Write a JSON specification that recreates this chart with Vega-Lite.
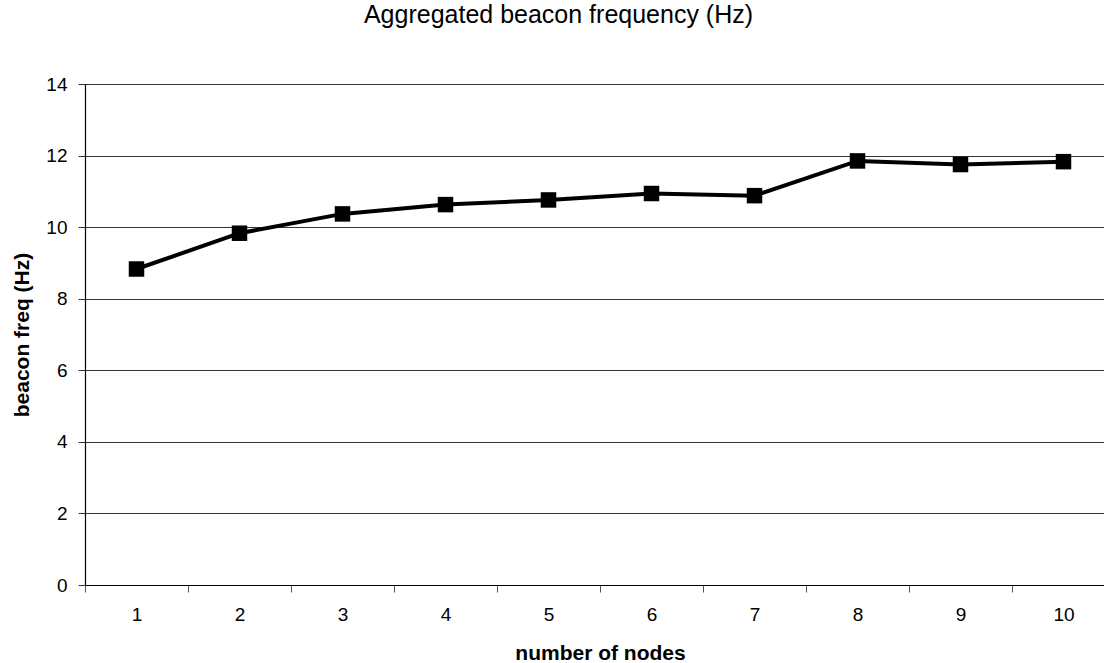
{
  "$schema": "https://vega.github.io/schema/vega-lite/v6.json",
  "autosize": "none",
  "padding": {"left": 85, "top": 84, "right": 0, "bottom": 78},
  "width": 1019,
  "height": 501,
  "background": "white",
  "config": {"view": {"stroke": null}, "font": "Liberation Sans"},
  "title": {"text": "Aggregated beacon frequency (Hz)", "fontSize": 25, "fontWeight": "normal", "font": "Liberation Sans", "color": "#000", "anchor": "middle", "dx": -36, "offset": 47},
  "data": {"values": [
    {"nodes": "1", "freq": 8.83},
    {"nodes": "2", "freq": 9.83},
    {"nodes": "3", "freq": 10.37},
    {"nodes": "4", "freq": 10.63},
    {"nodes": "5", "freq": 10.76},
    {"nodes": "6", "freq": 10.94},
    {"nodes": "7", "freq": 10.88},
    {"nodes": "8", "freq": 11.85},
    {"nodes": "9", "freq": 11.75},
    {"nodes": "10", "freq": 11.83}
  ]},
  "encoding": {
    "x": {"field": "nodes", "type": "ordinal", "sort": null,
      "scale": {"paddingInner": 0, "paddingOuter": 0, "range": [0, 1030]},
      "axis": {"title": "number of nodes", "titleFontSize": 21, "titleFontWeight": "bold", "titleColor": "#000", "titlePadding": 18,
        "labelAngle": 0, "labelFontSize": 19, "labelColor": "#000", "labelPadding": 13,
        "tickBand": "extent", "tickSize": 7, "tickColor": "#555", "domainColor": "#000", "domainWidth": 1.2}},
    "y": {"field": "freq", "type": "quantitative",
      "scale": {"domain": [0, 14]},
      "axis": {"values": [0, 2, 4, 6, 8, 10, 12, 14], "title": "beacon freq (Hz)", "titleFontSize": 21, "titleFontWeight": "bold", "titleColor": "#000", "titlePadding": 13,
        "labelFontSize": 19, "labelColor": "#000", "labelPadding": 11,
        "tickSize": 7, "tickColor": "#333", "domainColor": "#000", "domainWidth": 1.2,
        "grid": true, "gridColor": "#000", "gridWidth": 0.8}}
  },
  "layer": [
    {"mark": {"type": "line", "color": "#000", "strokeWidth": 4}},
    {"mark": {"type": "point", "shape": "square", "filled": true, "color": "#000", "size": 240, "opacity": 1}}
  ]
}
